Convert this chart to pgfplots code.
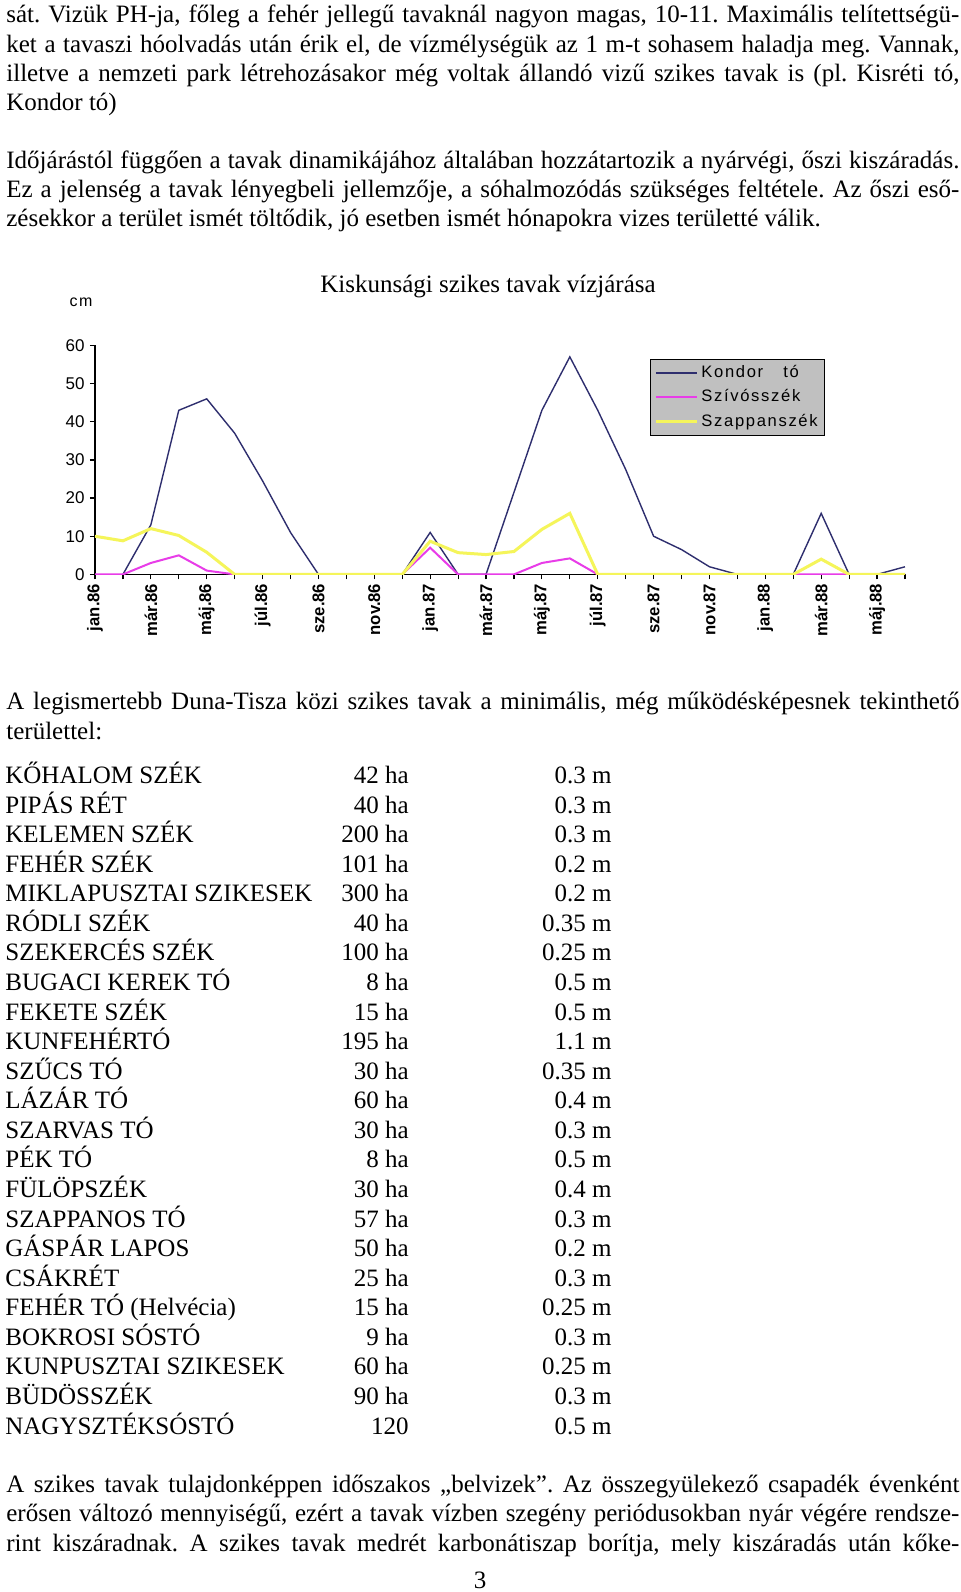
\documentclass[border=0pt]{standalone}
\usepackage{fontspec}
\setmainfont{Liberation Serif}
\newfontfamily\arialf{Liberation Sans}
\newfontfamily\legf[LetterSpace=10]{Liberation Sans}
\newfontfamily\tickf[FakeStretch=0.98]{Liberation Sans}
\usepackage{pgfplots}
\pgfplotsset{compat=1.18}
\definecolor{kondor}{HTML}{2E2E6E}
\definecolor{szivos}{HTML}{E83CE8}
\definecolor{szappan}{HTML}{F5F55A}
\definecolor{leggray}{HTML}{C0C0C0}
\newcommand{\jl}[2]{\node[anchor=base west, inner sep=0pt] at (6,#1) {\makebox[476.5pt][s]{#2}};}
\newcommand{\lline}[2]{\node[anchor=base west, inner sep=0pt] at (6,#1) {#2};}
\frenchspacing
\begin{document}
\frenchspacing
\begin{tikzpicture}[x=0.5pt, y=-0.5pt, font=\fontsize{12.5pt}{14.75pt}\selectfont\frenchspacing]
\path[use as bounding box, fill=white] (0,0) rectangle (960,1592);
% top text
\jl{22}{sát. Vizük PH-ja, főleg a fehér jellegű tavaknál nagyon magas, 10-11. Maximális telítettségü-}
\jl{52}{ket a tavaszi hóolvadás után érik el, de vízmélységük az 1 m-t sohasem haladja meg. Vannak,}
\jl{81.5}{illetve a nemzeti park létrehozásakor még voltak állandó vizű szikes tavak is (pl. Kisréti tó,}
\lline{110}{Kondor tó)}
\jl{168}{Időjárástól függően a tavak dinamikájához általában hozzátartozik a nyárvégi, őszi kiszáradás.}
\jl{197.5}{Ez a jelenség a tavak lényegbeli jellemzője, a sóhalmozódás szükséges feltétele. Az őszi eső-}
\lline{226}{zésekkor a terület ismét töltődik, jó esetben ismét hónapokra vizes területté válik.}
% chart
\node[font=\fontsize{12.5pt}{14pt}\selectfont] at (488,286) {Kiskunsági szikes tavak vízjárása};
\node[font=\legf\fontsize{8pt}{9pt}\selectfont] at (81,302) {cm};
\begin{axis}[
  at={(47.5pt,-287.2pt)}, anchor=south west,
  scale only axis, width=405pt, height=114.5pt,
  xmin=0, xmax=29, ymin=0, ymax=60,
  axis x line*=bottom, axis y line*=left,
  xtick={0,...,29},
  xticklabels={jan.86,,már.86,,máj.86,,júl.86,,sze.86,,nov.86,,jan.87,,már.87,,máj.87,,júl.87,,sze.87,,nov.87,,jan.88,,már.88,,máj.88,},
  ytick={0,10,...,60},
  tick align=outside, major tick length=2.5pt,
  tick style={black, line width=0.6pt},
  axis line style={black, line width=0.6pt},
  xticklabel style={rotate=90, anchor=east, font=\tickf\bfseries\fontsize{8.5pt}{9pt}\selectfont, inner sep=2pt},
  yticklabel style={font=\arialf\fontsize{8.5pt}{9pt}\selectfont, inner sep=2.5pt},
  /pgf/number format/assume math mode=true,
  legend style={at={(0.685,0.941)}, anchor=north west, fill=leggray, draw=black, line width=0.6pt,
    font=\legf\fontsize{8.3pt}{9pt}\selectfont, inner xsep=2pt, inner ysep=1.5pt, row sep=1.5pt,
    nodes={inner sep=1.5pt}},
  legend cell align=left,
  legend image code/.code={\draw[#1] (0pt,0pt) -- (20.5pt,0pt);},
]
\addplot[kondor, line width=0.7pt, mark=none] coordinates {
(1,0) (2,13) (3,43) (4,46) (5,37) (6,24.5) (7,11) (8,0) (9,0) (10,0) (11,0)
(12,11) (13,0) (14,0) (15,21.5) (16,43) (17,57) (18,43) (19,27.5) (20,10)
(21,6.5) (22,2) (23,0) (24,0) (25,0) (26,16) (27,0) (28,0) (29,2)};
\addplot[szivos, line width=1pt, mark=none] coordinates {
(0,0) (1,0) (2,3) (3,5) (4,1) (5,0) (6,0) (7,0) (8,0) (9,0) (10,0) (11,0)
(12,7) (13,0) (14,0) (15,0) (16,3) (17,4.2) (18,0) (19,0) (20,0) (21,0)
(22,0) (23,0) (24,0) (25,0) (26,0) (27,0) (28,0) (29,0)};
\addplot[szappan, line width=1.5pt, mark=none] coordinates {
(0,10) (1,8.8) (2,12) (3,10.2) (4,5.8) (5,0) (6,0) (7,0) (8,0) (9,0) (10,0) (11,0)
(12,8.7) (13,5.7) (14,5.2) (15,6) (16,11.8) (17,16) (18,0) (19,0) (20,0) (21,0)
(22,0) (23,0) (24,0) (25,0) (26,4) (27,0) (28,0) (29,0)};
\legend{Kondor\hspace{10pt}tó, Szívósszék, Szappanszék}
\end{axis}
% lower text
\jl{709.5}{A legismertebb Duna-Tisza közi szikes tavak a minimális, még működésképesnek tekinthető}
\lline{739.5}{területtel:}
\foreach \n/\a/\b [count=\i from 0] in {
KŐHALOM SZÉK/42 ha/0.3 m,
PIPÁS RÉT/40 ha/0.3 m,
KELEMEN SZÉK/200 ha/0.3 m,
FEHÉR SZÉK/101 ha/0.2 m,
MIKLAPUSZTAI SZIKESEK/300 ha/0.2 m,
RÓDLI SZÉK/40 ha/0.35 m,
SZEKERCÉS SZÉK/100 ha/0.25 m,
BUGACI KEREK TÓ/8 ha/0.5 m,
FEKETE SZÉK/15 ha/0.5 m,
KUNFEHÉRTÓ/195 ha/1.1 m,
SZŰCS TÓ/30 ha/0.35 m,
LÁZÁR TÓ/60 ha/0.4 m,
SZARVAS TÓ/30 ha/0.3 m,
PÉK TÓ/8 ha/0.5 m,
FÜLÖPSZÉK/30 ha/0.4 m,
SZAPPANOS TÓ/57 ha/0.3 m,
GÁSPÁR LAPOS/50 ha/0.2 m,
CSÁKRÉT/25 ha/0.3 m,
FEHÉR TÓ (Helvécia)/15 ha/0.25 m,
BOKROSI SÓSTÓ/9 ha/0.3 m,
KUNPUSZTAI SZIKESEK/60 ha/0.25 m,
BÜDÖSSZÉK/90 ha/0.3 m,
NAGYSZTÉKSÓSTÓ/120/0.5 m}{
  \pgfmathsetmacro{\yy}{783.5+29.57*\i}
  \node[anchor=base west, inner sep=0pt] at (5,\yy) {\n};
  \node[anchor=base east, inner sep=0pt] at (409,\yy) {\a};
  \node[anchor=base east, inner sep=0pt] at (612,\yy) {\b};
}
\jl{1492}{A szikes tavak tulajdonképpen időszakos „belvizek”. Az összegyülekező csapadék évenként}
\jl{1521.5}{erősen változó mennyiségű, ezért a tavak vízben szegény periódusokban nyár végére rendsze-}
\jl{1551}{rint kiszáradnak. A szikes tavak medrét karbonátiszap borítja, mely kiszáradás után kőke-}
\node[anchor=base, inner sep=0pt] at (480,1588) {3};
\end{tikzpicture}
\end{document}
